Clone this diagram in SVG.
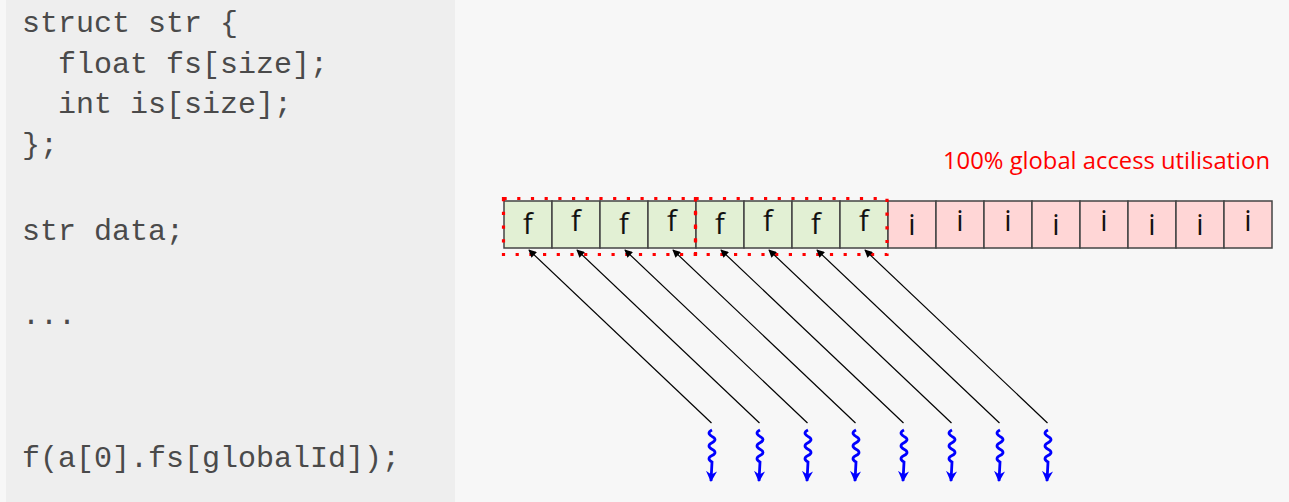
<svg xmlns="http://www.w3.org/2000/svg" width="1289" height="502" viewBox="0 0 1289 502">
<defs>
<style>
.code{font-family:"Liberation Mono","Courier New",monospace;font-size:30px;fill:#4a4a4a;}
.cell{stroke:#444;stroke-width:1.5;}
.f{fill:#e2f0d4;}
.i{fill:#ffd6d6;}
.lbl{font-family:"Open Sans","Liberation Sans",sans-serif;font-size:29px;fill:#111;text-anchor:middle;}
.dot{fill:none;stroke:#ff0000;stroke-width:3.2;stroke-dasharray:3.2 10.5;}
.acc{stroke:#000;stroke-width:1.2;fill:none;marker-end:url(#ah);}
.wav{stroke:#0000ff;stroke-width:2.8;fill:none;marker-end:url(#bh);}
.title{font-family:"Open Sans","Liberation Sans",sans-serif;font-size:24px;fill:#ff0000;}
</style>
<marker id="ah" viewBox="0 0 10 10" refX="9" refY="5" markerWidth="11" markerHeight="8" markerUnits="userSpaceOnUse" orient="auto">
<path d="M0,0 L10,5 L0,10 Z" fill="#000"/>
</marker>
<marker id="bh" viewBox="0 0 10 10" refX="9" refY="5" markerWidth="11" markerHeight="11" markerUnits="userSpaceOnUse" orient="auto">
<path d="M0,0 L10,5 L0,10 L3,5 Z" fill="#0000ff"/>
</marker>
<path id="wv" d="M1,430 q-6,3 0,6.4 q6,3.2 0,6.4 q-6,3.2 0,6.4 q6,3.2 0,6.4 q-6,3.2 0,6.4 L0,481"/>
</defs>
<rect x="0" y="0" width="1289" height="502" fill="#f7f7f7"/>
<g id="code-panel">
<rect x="6" y="0" width="449" height="502" fill="#eeeeee"/>
<text class="code" x="22" y="32" xml:space="preserve">struct str {</text>
<text class="code" x="22" y="73" xml:space="preserve">  float fs[size];</text>
<text class="code" x="22" y="113" xml:space="preserve">  int is[size];</text>
<text class="code" x="22" y="154">};</text>
<text class="code" x="22" y="240">str data;</text>
<text class="code" x="22" y="324">...</text>
<text class="code" x="22" y="467">f(a[0].fs[globalId]);</text>
</g>
<g id="title">
<text class="title" x="943" y="169" textLength="327" lengthAdjust="spacingAndGlyphs">100% global access utilisation</text>
</g>
<g id="memory">
<rect class="cell f" x="504" y="201" width="48" height="47"/>
<rect class="cell f" x="552" y="201" width="48" height="47"/>
<rect class="cell f" x="600" y="201" width="48" height="47"/>
<rect class="cell f" x="648" y="201" width="48" height="47"/>
<rect class="cell f" x="696" y="201" width="48" height="47"/>
<rect class="cell f" x="744" y="201" width="48" height="47"/>
<rect class="cell f" x="792" y="201" width="48" height="47"/>
<rect class="cell f" x="840" y="201" width="48" height="47"/>
<rect class="cell i" x="888" y="201" width="48" height="47"/>
<rect class="cell i" x="936" y="201" width="48" height="47"/>
<rect class="cell i" x="984" y="201" width="48" height="47"/>
<rect class="cell i" x="1032" y="201" width="48" height="47"/>
<rect class="cell i" x="1080" y="201" width="48" height="47"/>
<rect class="cell i" x="1128" y="201" width="48" height="47"/>
<rect class="cell i" x="1176" y="201" width="48" height="47"/>
<rect class="cell i" x="1224" y="201" width="48" height="47"/>
<text class="lbl" x="528" y="234">f</text>
<text class="lbl" x="576" y="231">f</text>
<text class="lbl" x="624" y="234">f</text>
<text class="lbl" x="672" y="231">f</text>
<text class="lbl" x="720" y="234">f</text>
<text class="lbl" x="768" y="231">f</text>
<text class="lbl" x="816" y="234">f</text>
<text class="lbl" x="864" y="231">f</text>
<text class="lbl" x="912" y="235">i</text>
<text class="lbl" x="960" y="231">i</text>
<text class="lbl" x="1008" y="231">i</text>
<text class="lbl" x="1056" y="235">i</text>
<text class="lbl" x="1104" y="231">i</text>
<text class="lbl" x="1152" y="235">i</text>
<text class="lbl" x="1200" y="235">i</text>
<text class="lbl" x="1248" y="231">i</text>
</g>
<g id="segments">
<rect class="dot" x="503.5" y="198.5" width="192" height="56"/>
<rect class="dot" x="695.5" y="198.5" width="191.5" height="56"/>
</g>
<g id="connectors">
<line class="acc" x1="711.5" y1="423" x2="529" y2="250"/>
<line class="acc" x1="759.5" y1="423" x2="577" y2="250"/>
<line class="acc" x1="807.5" y1="423" x2="625" y2="250"/>
<line class="acc" x1="855.5" y1="423" x2="673" y2="250"/>
<line class="acc" x1="903.5" y1="423" x2="721" y2="250"/>
<line class="acc" x1="951.5" y1="423" x2="769" y2="250"/>
<line class="acc" x1="999.5" y1="423" x2="817" y2="250"/>
<line class="acc" x1="1047.5" y1="423" x2="865" y2="250"/>
</g>
<g id="threads">
<use href="#wv" class="wav" x="711"/>
<use href="#wv" class="wav" x="759"/>
<use href="#wv" class="wav" x="807"/>
<use href="#wv" class="wav" x="855"/>
<use href="#wv" class="wav" x="903"/>
<use href="#wv" class="wav" x="951"/>
<use href="#wv" class="wav" x="999"/>
<use href="#wv" class="wav" x="1047"/>
</g>
</svg>
